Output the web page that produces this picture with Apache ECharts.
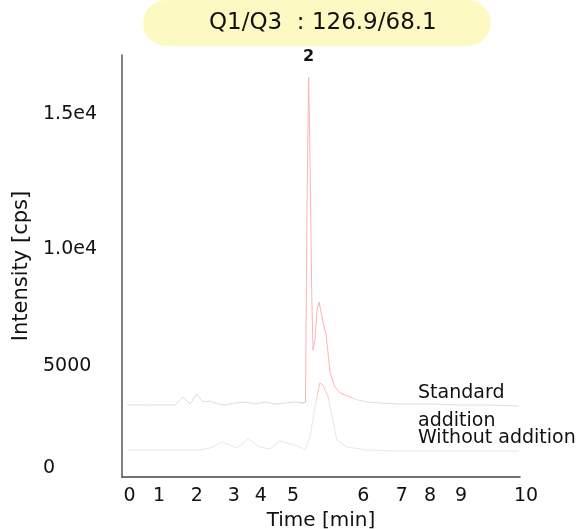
<!DOCTYPE html>
<html>
<head>
<meta charset="utf-8">
<script src="https://cdn.jsdelivr.net/npm/echarts@6/dist/echarts.min.js"></script>
<style>html,body{margin:0;padding:0;background:#fff}#c{width:580px;height:529px}</style>
</head>
<body>
<div id="c"></div>
<script>
// Tick labels (positions where they appear on the reference axis, and their text)
var xTickPos = [0.19, 0.93, 1.88, 2.81, 3.49, 4.30, 6.06, 7.03, 7.74, 8.52, 10];
var xTickText = ['0', '1', '2', '3', '4', '5', '6', '7', '8', '9', '10'];
var yTickPos = [365, 4473, 9186, 14623];
var yTickText = ['0', '5000', '1.0e4', '1.5e4'];

// Series: [time, intensity]
var standardX = [0.13, 0.70, 1.33, 1.53, 1.71, 1.88, 2.04, 2.21, 2.41, 2.59, 2.84, 3.09, 3.34, 3.59, 3.84, 4.10, 4.35, 4.55, 4.61, 4.65, 4.69, 4.72, 4.77, 4.80, 4.85, 4.90, 4.95, 5.00, 5.05, 5.13, 5.23, 5.35, 5.48, 5.60, 5.73, 5.93, 6.16, 6.48, 6.98, 7.74, 8.49, 9.25, 9.97];
var standardY = [2900, 2900, 2900, 3222, 2940, 3343, 3021, 3061, 2940, 2900, 2981, 3021, 2940, 3021, 2940, 2981, 3021, 2981, 3021, 11158, 16113, 13172, 7130, 5116, 5518, 6727, 7049, 6646, 6243, 5720, 4189, 3625, 3384, 3303, 3222, 3102, 3021, 2981, 2940, 2940, 2900, 2900, 2860];
var withoutX = [0.13, 0.95, 1.96, 2.21, 2.51, 2.71, 2.89, 3.17, 3.47, 3.72, 3.97, 4.22, 4.40, 4.60, 4.72, 4.85, 4.97, 5.05, 5.18, 5.28, 5.40, 5.65, 6.16, 6.98, 8.49, 9.97];
var withoutY = [1088, 1088, 1088, 1168, 1410, 1289, 1168, 1531, 1208, 1128, 1450, 1329, 1249, 1088, 1611, 2820, 3786, 3706, 3222, 2417, 1490, 1208, 1088, 1047, 1047, 1047];

function zip(a, b) { return a.map(function (v, i) { return [v, b[i]]; }); }

var FONT = 'DejaVu Sans';
var chart = echarts.init(document.getElementById('c'), null, { renderer: 'canvas' });
chart.setOption({
  animation: false,
  backgroundColor: '#fff',
  textStyle: { fontFamily: FONT },
  title: {
    text: 'Q1/Q3  : 126.9/68.1',
    left: 143, top: 0,
    padding: [9, 54, 9, 66],
    backgroundColor: '#fcfac2',
    borderRadius: 23,
    textStyle: { fontFamily: FONT, fontSize: 23, fontWeight: 'normal', color: '#111', lineHeight: 28 }
  },
  legend: {
    orient: 'vertical',
    left: 408, top: 374,
    itemWidth: 0, itemHeight: 0, itemGap: -11,
    icon: 'rect',
    selectedMode: false,
    data: ['Standard addition', 'Without addition'],
    formatter: function (n) { return n === 'Standard addition' ? 'Standard\naddition' : n; },
    textStyle: { fontFamily: FONT, fontSize: 19, color: '#111', lineHeight: 28 }
  },
  grid: { left: 122, right: 60, top: 55, bottom: 52, containLabel: false, outerBoundsMode: 'none' },
  visualMap: [
    { show: false, type: 'piecewise', seriesIndex: 0, dimension: 0,
      pieces: [{ lt: 4.5, color: '#dcdcdc' }, { gte: 4.5, lt: 5.8, color: '#ffb3b3' }, { gte: 5.8, color: '#dedede' }] }
  ],
  xAxis: {
    type: 'value', min: 0, max: 10,
    name: 'Time [min]', nameLocation: 'middle', nameGap: 29,
    nameTextStyle: { fontFamily: FONT, fontSize: 20, color: '#111' },
    axisLine: { show: true, lineStyle: { color: '#444', width: 1.5 } },
    axisTick: { show: false },
    splitLine: { show: false },
    axisLabel: {
      customValues: xTickPos,
      margin: 10,
      fontFamily: FONT, fontSize: 19, color: '#111',
      formatter: function (v) {
        var i = xTickPos.indexOf(v);
        var t = i >= 0 ? xTickText[i] : '';
        return t === '10' ? '{s|10}' : t;
      },
      rich: { s: { fontFamily: FONT, fontSize: 19, color: '#111', padding: [0, 0, 0, 12] } }
    }
  },
  yAxis: {
    type: 'value', min: 0, max: 17000,
    name: 'Intensity [cps]', nameLocation: 'middle', nameGap: 85, nameRotate: 90,
    nameTextStyle: { fontFamily: FONT, fontSize: 21, color: '#111' },
    axisLine: { show: true, lineStyle: { color: '#555', width: 1.5 } },
    axisTick: { show: false },
    splitLine: { show: false },
    axisLabel: {
      customValues: yTickPos,
      align: 'left', margin: 79,
      fontFamily: FONT, fontSize: 19, color: '#111',
      formatter: function (v) { var i = yTickPos.indexOf(v); return i >= 0 ? yTickText[i] : ''; }
    }
  },
  series: [
    {
      name: 'Standard addition', type: 'line', data: zip(standardX, standardY),
      showSymbol: false, symbol: 'none', lineStyle: { width: 1 }, itemStyle: { color: '#ffb3b3' },
      markPoint: {
        symbol: 'circle', symbolSize: 0,
        data: [{ type: 'max', name: 'peak' }],
        label: { show: true, position: 'top', distance: 12, formatter: '2',
          fontFamily: FONT, fontSize: 16, fontWeight: 'bold', color: '#111' }
      }
    },
    {
      name: 'Without addition', type: 'line', data: zip(withoutX, withoutY),
      showSymbol: false, symbol: 'none',
      itemStyle: { color: '#e2dcdc' },
      lineStyle: {
        width: 1,
        color: new echarts.graphic.LinearGradient(0, 0, 0, 1, [
          { offset: 0, color: '#ffb8b8' }, { offset: 0.22, color: '#ffc4c4' },
          { offset: 0.32, color: '#e8e4e4' }, { offset: 1, color: '#e8e8e8' }
        ])
      }
    }
  ]
});
</script>
</body>
</html>
